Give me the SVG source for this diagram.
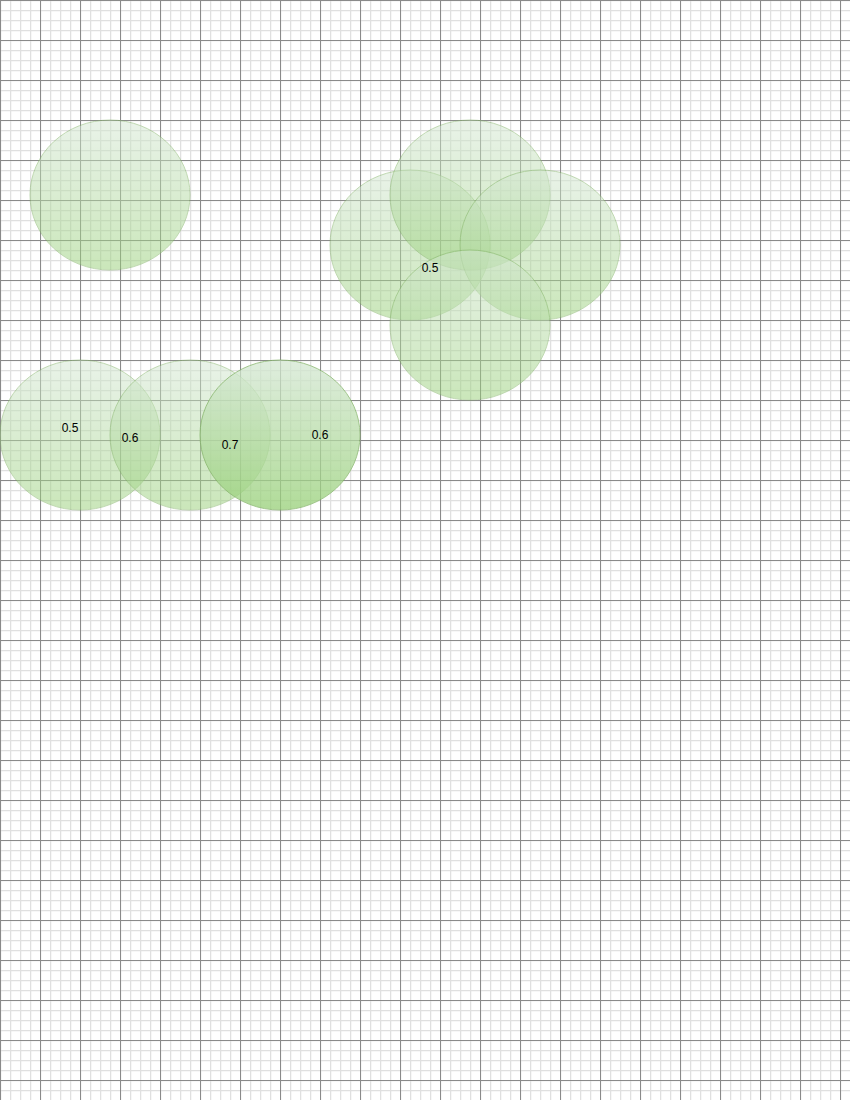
<svg xmlns="http://www.w3.org/2000/svg" width="850" height="1100" viewBox="0 0 850 1100">
<defs>
<pattern id="minor" width="10" height="10" patternUnits="userSpaceOnUse">
<path d="M0.5 0V10M0 0.5H10" fill="none" stroke="#e0e0e0" stroke-width="1.5"/>
</pattern>
<pattern id="major" width="40" height="40" patternUnits="userSpaceOnUse">
<path d="M0.5 0V40M0 0.5H40" fill="none" stroke="#8a8a8a" stroke-width="1"/>
</pattern>
<linearGradient id="g" x1="0" y1="0" x2="0" y2="1">
<stop offset="0" stop-color="#d5e8d4"/>
<stop offset="1" stop-color="#97d077"/>
</linearGradient>
</defs>
<style>
.c{fill:url(#g);stroke:#82b366;stroke-width:1}
.t{font-family:"Liberation Sans",Arial,sans-serif;font-size:12px;fill:#000;text-anchor:middle}
</style>
<rect width="850" height="1100" fill="#fff"/>
<rect width="850" height="1100" fill="url(#minor)"/>
<rect width="850" height="1100" fill="url(#major)"/>
<g id="n1" opacity="0.5"><ellipse class="c" cx="110" cy="195" rx="80" ry="75"/></g>
<g id="n2" opacity="0.5"><ellipse class="c" cx="410" cy="245" rx="80" ry="75"/></g>
<g id="n3" opacity="0.5"><ellipse class="c" cx="470" cy="195" rx="80" ry="75"/></g>
<g id="n4" opacity="0.5"><ellipse class="c" cx="540" cy="245" rx="80" ry="75"/></g>
<g id="n5" opacity="0.5"><ellipse class="c" cx="470" cy="325" rx="80" ry="75"/></g>
<g id="n6" opacity="0.5"><ellipse class="c" cx="80" cy="435" rx="80" ry="75"/></g>
<g id="n7" opacity="0.5"><ellipse class="c" cx="190" cy="435" rx="80" ry="75"/></g>
<g id="n8" opacity="0.75"><ellipse class="c" cx="280" cy="435" rx="80" ry="75"/></g>
<g id="labels">
<text class="t" x="430" y="272">0.5</text>
<text class="t" x="70" y="432">0.5</text>
<text class="t" x="130" y="442">0.6</text>
<text class="t" x="230" y="449">0.7</text>
<text class="t" x="320" y="439">0.6</text>
</g>
<g id="connectors"/>
</svg>
